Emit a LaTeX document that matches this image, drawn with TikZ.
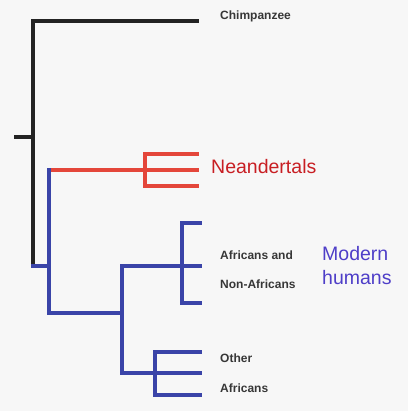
\documentclass[tikz,border=0pt]{standalone}
\usepackage{fontspec}
\setmainfont{Liberation Sans}
\usetikzlibrary{positioning}
\definecolor{treeblack}{RGB}{35,35,35}
\definecolor{treered}{RGB}{228,70,58}
\definecolor{treeblue}{RGB}{58,68,168}
\definecolor{neanred}{RGB}{200,30,35}
\definecolor{modernblue}{RGB}{78,62,200}
\definecolor{labelgray}{RGB}{55,55,55}
\definecolor{bgwhite}{RGB}{247,247,247}

\begin{document}
\begin{tikzpicture}[
    x=1pt, y=-1pt,
    branch/.style={line width=3.2pt, line cap=rect, line join=miter},
    ape/.style={branch, draw=treeblack},
    nean/.style={branch, draw=treered},
    human/.style={branch, draw=treeblue},
    leaf/.style={anchor=west, inner sep=0pt, text=labelgray, font=\fontsize{12}{14}\selectfont\bfseries},
    group/.style={anchor=west, inner sep=0pt, align=left, font=\fontsize{19.5}{24}\selectfont}
]
    \fill[bgwhite] (0,0) rectangle (408,411);
    \useasboundingbox (0,0) rectangle (408,411);

    % junctions
    \coordinate (stub) at (16,137);
    \coordinate (root) at (33,137);
    \coordinate (split) at (33,266);
    \coordinate (hom) at (49,266);
    \coordinate (neanjoin) at (145,170);
    \coordinate (sapiens) at (122,313);
    \coordinate (outjoin) at (182,266);
    \coordinate (afrjoin) at (155,373);

    % leaf ends
    \coordinate (chimp) at (197,21);
    \coordinate (n1) at (197,154);
    \coordinate (n2) at (197,170);
    \coordinate (n3) at (197,186);
    \coordinate (m1) at (200,223);
    \coordinate (m2) at (200,266);
    \coordinate (m3) at (200,303);
    \coordinate (a1) at (200,352);
    \coordinate (a2) at (200,373);
    \coordinate (a3) at (200,395);

    % labels
    \node[leaf] (chimplabel) at (220,16) {Chimpanzee};
    \node[group, text=neanred] (neanlabel) at (211,167) {Neandertals};
    \node[leaf] (afrand) at (220,255) {Africans and};
    \node[leaf] (nonafr) at (220,284) {Non-Africans};
    \node[leaf] (other) at (220,358) {Other};
    \node[leaf] (africans) at (220,388) {Africans};
    \node[group, text=modernblue] (modern) at (322,266) {Modern\\humans};

    % ape part
    \draw[ape] (stub) -- (root);
    \draw[ape] (split) -- (root) |- (chimp);

    % neandertal branch
    \draw[human] (split) -- (hom);
    \draw[nean] (hom |- neanjoin) -- (neanjoin);
    \draw[nean] (neanjoin |- n1) -- (neanjoin |- n3);
    \foreach \t in {n1,n2,n3}
        \draw[nean] (neanjoin |- \t) -- (\t);

    % modern humans
    \draw[human] (hom |- neanjoin) -- (hom) |- (sapiens);
    \draw[human] (sapiens |- outjoin) -- (sapiens |- afrjoin);
    \draw[human] (sapiens |- outjoin) -- (m2);
    \draw[human] (m1) -| (outjoin) |- (m3);
    \draw[human] (sapiens |- afrjoin) -- (afrjoin);
    \draw[human] (a1) -| (afrjoin) |- (a3);
    \draw[human] (afrjoin) -- (a2);
\end{tikzpicture}
\end{document}
